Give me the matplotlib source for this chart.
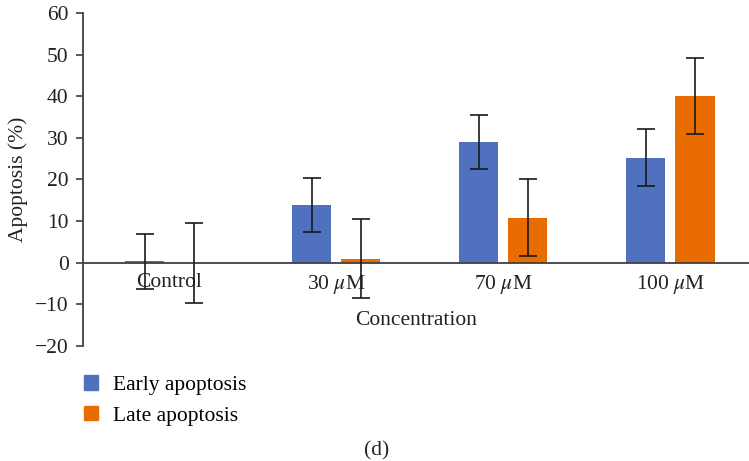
import matplotlib
matplotlib.use('Agg')
import matplotlib.pyplot as plt
import numpy as np
from matplotlib.patches import Patch

categories = ['Control', '30 $\\mu$M', '70 $\\mu$M', '100 $\\mu$M']
early = [0.3, 13.8, 29.0, 25.2]
early_err = [6.6, 6.5, 6.5, 6.8]
late = [0.0, 1.0, 10.8, 40.1]
late_err = [9.6, 9.5, 9.3, 9.1]
yticks = [-20, -10, 0, 10, 20, 30, 40, 50, 60]

plt.rcParams['font.family'] = ['Liberation Serif', 'DejaVu Serif']
plt.rcParams['mathtext.fontset'] = 'stix'
plt.rcParams['font.size'] = 15.5

blue = '#4F71BE'
orange = '#E96C00'
axis_col = '#404040'
text_col = '#222222'

fig = plt.figure(figsize = (7.49, 4.61), dpi = 100)
ax = fig.add_axes([0.111, 0.2495, 0.889, 0.7225])

x = np.arange(len(categories))
w = 0.234
off = 0.147
err_kw = dict(ecolor = '#1a1a1a', elinewidth = 1.2, capsize = 6.5, capthick = 1.2, zorder = 4)
ax.bar(x - off, early, w, color = blue, yerr = early_err, error_kw = err_kw, zorder = 2)
ax.bar(x + off, late, w, color = orange, yerr = late_err, error_kw = err_kw, zorder = 2)

ax.set_xlim(-0.515, 3.47)
ax.set_ylim(-20, 60)
ax.set_yticks(yticks)
ax.set_xticks(x)
ax.set_xticklabels(categories)

for s in ['top', 'right']:
	ax.spines[s].set_visible(False)
ax.spines['bottom'].set_position(('data', 0))
for s in ['bottom', 'left']:
	ax.spines[s].set_color(axis_col)
	ax.spines[s].set_linewidth(1.3)
ax.spines['bottom'].set_zorder(3)
ax.tick_params(axis = 'x', length = 0, pad = 7.5, colors = text_col)
ax.tick_params(axis = 'y', length = 5, width = 1.2, color = axis_col, pad = 5.5, labelcolor = text_col)

ax.set_xlabel('Concentration', labelpad = 11, color = text_col)
ax.set_ylabel('Apoptosis (%)', labelpad = 5, color = text_col)

handles = [Patch(color = blue, label = 'Early apoptosis'), Patch(color = orange, label = 'Late apoptosis')]
fig.legend(handles = handles, loc = 'upper left', bbox_to_anchor = (0.112, 0.186), frameon = False,
	borderpad = 0, borderaxespad = 0, handlelength = 0.65, handleheight = 0.65,
	handletextpad = 0.7, labelspacing = 0.5)

fig.text(0.503, 0.021, '(d)', ha = 'center', va = 'center', color = text_col)

fig.savefig('out.png', dpi = 100)
